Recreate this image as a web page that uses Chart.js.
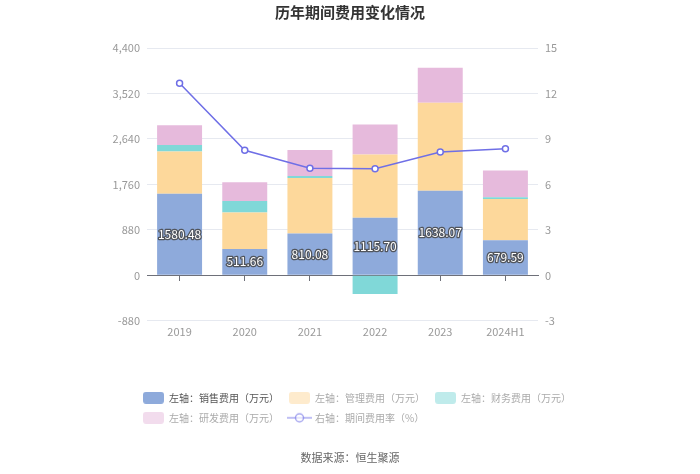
<!DOCTYPE html>
<html>
<head>
<meta charset="utf-8">
<script src="https://cdn.jsdelivr.net/npm/chart.js@4.4.1/dist/chart.umd.min.js"></script>
<style>
  html, body { margin: 0; padding: 0; background: #fff; }
</style>
</head>
<body>
<canvas id="myChart" width="700" height="474"></canvas>
<script>
// values
const years = ['2019', '2020', '2021', '2022', '2023', '2024H1'];
const sales = [1580.48, 511.66, 810.08, 1115.70, 1638.07, 679.59];
const admin = [814, 705, 1073, 1225, 1700, 800];
const finance = [129, 220, 39, -359, -10, 33];
const rnd = [382, 363, 504, 580, 678, 515];
const rate = [12.68, 8.25, 7.06, 7.04, 8.14, 8.36];

const leftMin = -880, leftMax = 4400, leftStep = 880;
const rightMin = -3, rightMax = 15, rightStep = 3;

const seriesNames = [
    '左轴：销售费用（万元）',
    '左轴：管理费用（万元）',
    '左轴：财务费用（万元）',
    '左轴：研发费用（万元）',
    '右轴：期间费用率（%）'
];
const colors = ['#8eaadb', '#fdd89b', '#80d8d8', '#e6badc', '#6f6fe6'];

function barIcon(color, alpha) {
    const c = document.createElement('canvas');
    c.width = 21; c.height = 12;
    const g = c.getContext('2d');
    g.globalAlpha = alpha;
    g.fillStyle = color;
    g.beginPath();
    if (g.roundRect) g.roundRect(0, 0, 21, 12, 3); else g.rect(0, 0, 21, 12);
    g.fill();
    return c;
}

function lineIcon(color, alpha) {
    const c = document.createElement('canvas');
    c.width = 25; c.height = 12;
    const g = c.getContext('2d');
    g.globalAlpha = alpha;
    g.strokeStyle = color;
    g.lineWidth = 1.5;
    g.beginPath(); g.moveTo(0, 6); g.lineTo(25, 6); g.stroke();
    g.beginPath(); g.arc(12.5, 6, 4, 0, Math.PI * 2);
    g.fillStyle = '#fff'; g.fill(); g.stroke();
    return c;
}

const legendIcons = [
    barIcon(colors[0], 1),
    barIcon(colors[1], 0.5),
    barIcon(colors[2], 0.5),
    barIcon(colors[3], 0.5),
    lineIcon(colors[4], 0.6)
];

// white labels with dark outline in the middle of the sales bars
const salesLabels = {
    id: 'salesLabels',
    afterDatasetsDraw(chart) {
        const meta = chart.getDatasetMeta(0);
        const ctx = chart.ctx;
        ctx.save();
        ctx.font = '12px "Noto Sans CJK SC", "Noto Sans", sans-serif';
        ctx.textAlign = 'center';
        ctx.textBaseline = 'middle';
        ctx.lineJoin = 'round';
        meta.data.forEach((bar, i) => {
            const txt = sales[i].toFixed(2);
            const y = (bar.y + bar.base) / 2;
            ctx.strokeStyle = 'rgba(70,70,70,0.85)';
            ctx.lineWidth = 2.5;
            ctx.strokeText(txt, bar.x, y);
            ctx.fillStyle = '#fff';
            ctx.fillText(txt, bar.x, y);
        });
        ctx.restore();
    }
};

// line the legend rows up just left of the plot area, like the original
const legendShift = {
    id: 'legendShift',
    afterLayout(chart) {
        const lg = chart.legend;
        const dx = chart.chartArea.left - 4 - (lg.left + lg.options.labels.padding);
        lg.left += dx;
        lg.right += dx;
    }
};

Chart.defaults.font.family = '"Noto Sans CJK SC", "Noto Sans", sans-serif';

const barCommon = {
    type: 'bar',
    yAxisID: 'y',
    xAxisID: 'x',
    stack: 'cost',
    barPercentage: 1,
    categoryPercentage: 0.69,
    order: 1
};

const ctx = document.getElementById('myChart');
const myChart = new Chart(ctx, {
    type: 'bar',
    data: {
        labels: years,
        datasets: [
            { ...barCommon, label: seriesNames[0], data: sales, backgroundColor: colors[0] },
            { ...barCommon, label: seriesNames[1], data: admin, backgroundColor: colors[1] },
            { ...barCommon, label: seriesNames[2], data: finance, backgroundColor: colors[2] },
            { ...barCommon, label: seriesNames[3], data: rnd, backgroundColor: colors[3] },
            {
                type: 'line',
                label: seriesNames[4],
                data: rate,
                yAxisID: 'yR',
                xAxisID: 'x',
                borderColor: colors[4],
                borderWidth: 1.5,
                pointRadius: 3,
                pointBorderWidth: 1.5,
                pointBackgroundColor: '#fff',
                pointBorderColor: colors[4],
                tension: 0,
                order: 0
            }
        ]
    },
    options: {
        responsive: false,
        animation: false,
        layout: { padding: { left: 100, right: 100, top: 0, bottom: 0 } },
        plugins: {
            title: {
                display: true,
                text: '历年期间费用变化情况',
                color: '#333',
                font: { size: 15, weight: 'bold' },
                padding: { top: 3, bottom: 27 }
            },
            subtitle: {
                display: true,
                position: 'bottom',
                text: '数据来源：恒生聚源',
                color: '#666',
                font: { size: 11 },
                padding: { top: 18, bottom: 10 }
            },
            legend: {
                position: 'bottom',
                align: 'start',
                labels: {
                    usePointStyle: true,
                    pointStyleWidth: 21,
                    font: { size: 10 },
                    padding: 10,
                    generateLabels(chart) {
                        return chart.data.datasets.map((ds, i) => ({
                            text: ds.label,
                            pointStyle: legendIcons[i],
                            fontColor: i === 0 ? '#555' : '#aaa',
                            fillStyle: colors[i],
                            strokeStyle: colors[i],
                            lineWidth: 0,
                            hidden: !chart.isDatasetVisible(i),
                            datasetIndex: i
                        }));
                    }
                }
            },
            tooltip: { enabled: false }
        },
        scales: {
            x: {
                stacked: true,
                offset: true,
                grid: { display: false, drawTicks: false },
                border: { display: false },
                ticks: { color: '#999', font: { size: 11 }, padding: 4 },
                afterFit(scale) { scale.height = 62; }
            },
            x0: {
                type: 'category',
                labels: years,
                position: { y: 0 },
                offset: true,
                grid: { drawOnChartArea: false, drawTicks: true, tickLength: 5, offset: false, color: '#6e7079' },
                border: { color: '#6e7079', width: 1 },
                ticks: { display: false }
            },
            y: {
                position: 'left',
                stacked: true,
                min: leftMin,
                max: leftMax,
                ticks: { stepSize: leftStep, color: '#999', font: { size: 11 }, padding: 7 },
                grid: { color: '#e6e9f0', drawTicks: false },
                border: { display: false },
                afterFit(scale) { scale.width = 47; }
            },
            yR: {
                position: 'right',
                min: rightMin,
                max: rightMax,
                ticks: { stepSize: rightStep, color: '#999', font: { size: 11 }, padding: 7 },
                grid: { drawOnChartArea: false, drawTicks: false },
                border: { display: false },
                afterFit(scale) { scale.width = 62; }
            }
        }
    },
    plugins: [salesLabels, legendShift]
});
</script>
</body>
</html>
